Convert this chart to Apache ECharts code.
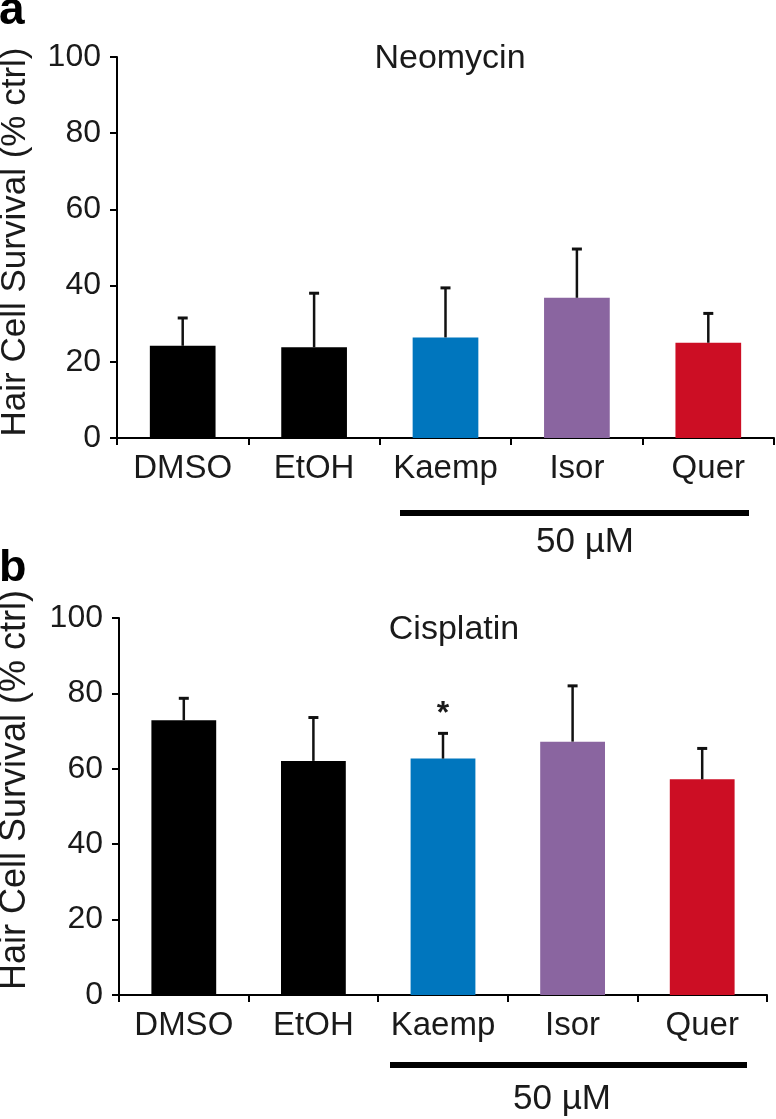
<!DOCTYPE html>
<html>
<head>
<meta charset="utf-8">
<script src="https://cdn.jsdelivr.net/npm/echarts@6/dist/echarts.min.js"></script>
<style>
  html, body { margin: 0; padding: 0; background: #fff; }
  #chart { width: 776px; height: 1119px; }
</style>
</head>
<body>
<div id="chart"></div>
<script>
// data
const categories = ["DMSO", "EtOH", "Kaemp", "Isor", "Quer"];
const neoMean = [24.2, 23.8, 26.4, 36.8, 25.0];
const neoSem = [7.3, 14.2, 13.0, 12.8, 7.7];
const cisMean = [72.9, 62.1, 62.7, 67.2, 57.2];
const cisSem = [5.8, 11.5, 6.7, 14.8, 8.2];
const cisSig = ["", "", "*", "", ""];

const barColors = ["#000000", "#000000", "#0076be", "#8a65a0", "#cc0e24"];
const FONT = "Liberation Sans, Arial, sans-serif";
const INK = "#1a1a1a";

const chart = echarts.init(document.getElementById("chart"));

const xAxisFor = (gridIndex) => ({
  type: "category",
  gridIndex: gridIndex,
  data: categories,
  axisLine: { show: true, lineStyle: { color: "#000", width: 2 } },
  axisTick: { show: true, length: 7, lineStyle: { color: "#000", width: 2 } },
  axisLabel: { interval: 0, color: INK, fontSize: 33, fontFamily: FONT, margin: 14 },
});

const yAxisFor = (gridIndex) => ({
  type: "value",
  gridIndex: gridIndex,
  min: 0,
  max: 100,
  interval: 20,
  axisLine: { show: true, lineStyle: { color: "#000", width: 2 } },
  axisTick: { show: true, length: 7, lineStyle: { color: "#000", width: 2 } },
  axisLabel: { color: INK, fontSize: 32, fontFamily: FONT, margin: 16 },
  splitLine: { show: false },
});

const barSeries = (idx, values) => ({
  type: "bar",
  xAxisIndex: idx,
  yAxisIndex: idx,
  barWidth: "50%",
  data: values.map((v, i) => ({ value: v, itemStyle: { color: barColors[i] } })),
});

// upper error bar (+ optional significance mark)
const errorSeries = (idx, mean, sem, sig) => ({
  type: "custom",
  xAxisIndex: idx,
  yAxisIndex: idx,
  z: 3,
  data: mean.map((m, i) => [i, m, m + sem[i]]),
  renderItem: (params, api) => {
    const base = api.coord([api.value(0), api.value(1)]);
    const top = api.coord([api.value(0), api.value(2)]);
    const children = [
      {
        type: "line",
        shape: { x1: base[0], y1: base[1], x2: top[0], y2: top[1] },
        style: { stroke: "#111", lineWidth: 2.5 },
      },
      {
        type: "line",
        shape: { x1: top[0] - 5, y1: top[1], x2: top[0] + 5, y2: top[1] },
        style: { stroke: "#111", lineWidth: 3 },
      },
    ];
    const s = sig ? sig[params.dataIndex] : "";
    if (s) {
      children.push({
        type: "text",
        style: {
          text: s, x: top[0], y: top[1] - 19,
          align: "center", verticalAlign: "middle",
          fontSize: 32, fontWeight: "bold", fontFamily: FONT, fill: INK,
        },
      });
    }
    return { type: "group", children: children };
  },
});

const txt = (text, x, y, size, extra) => Object.assign({
  type: "text",
  x: x,
  y: y,
  style: {
    text: text, fontSize: size, fontFamily: FONT, fill: INK,
    align: "center", verticalAlign: "middle",
  },
}, extra || {});

const option = {
  animation: false,
  backgroundColor: "#fff",
  grid: [
    { left: 117, right: 2, top: 57, height: 381 },
    { left: 119, right: 9, top: 618, height: 377 },
  ],
  xAxis: [xAxisFor(0), xAxisFor(1)],
  yAxis: [yAxisFor(0), yAxisFor(1)],
  series: [
    barSeries(0, neoMean),
    errorSeries(0, neoMean, neoSem),
    barSeries(1, cisMean),
    errorSeries(1, cisMean, cisSem, cisSig),
  ],
  graphic: [
    // panel letters
    { type: "text", x: -1, y: 11, style: { text: "a", fontSize: 46, fontWeight: "bold", fontFamily: FONT, fill: "#000", verticalAlign: "middle" } },
    { type: "text", x: -1, y: 569, style: { text: "b", fontSize: 45, fontWeight: "bold", fontFamily: FONT, fill: "#000", verticalAlign: "middle" } },
    // y axis titles
    txt("Hair Cell Survival (% ctrl)", 15, 242, 35, { rotation: Math.PI / 2 }),
    txt("Hair Cell Survival (% ctrl)", 15, 790, 36, { rotation: Math.PI / 2 }),
    // panel titles
    txt("Neomycin", 450, 59, 34),
    txt("Cisplatin", 454, 630, 34),
    // 50 µM brackets
    { type: "rect", shape: { x: 400, y: 510, width: 349, height: 6 }, style: { fill: "#000" } },
    txt("50 µM", 585, 542, 35),
    { type: "rect", shape: { x: 390, y: 1062, width: 357, height: 6 }, style: { fill: "#000" } },
    txt("50 µM", 562, 1099, 35),
  ],
};

chart.setOption(option);
</script>
</body>
</html>
